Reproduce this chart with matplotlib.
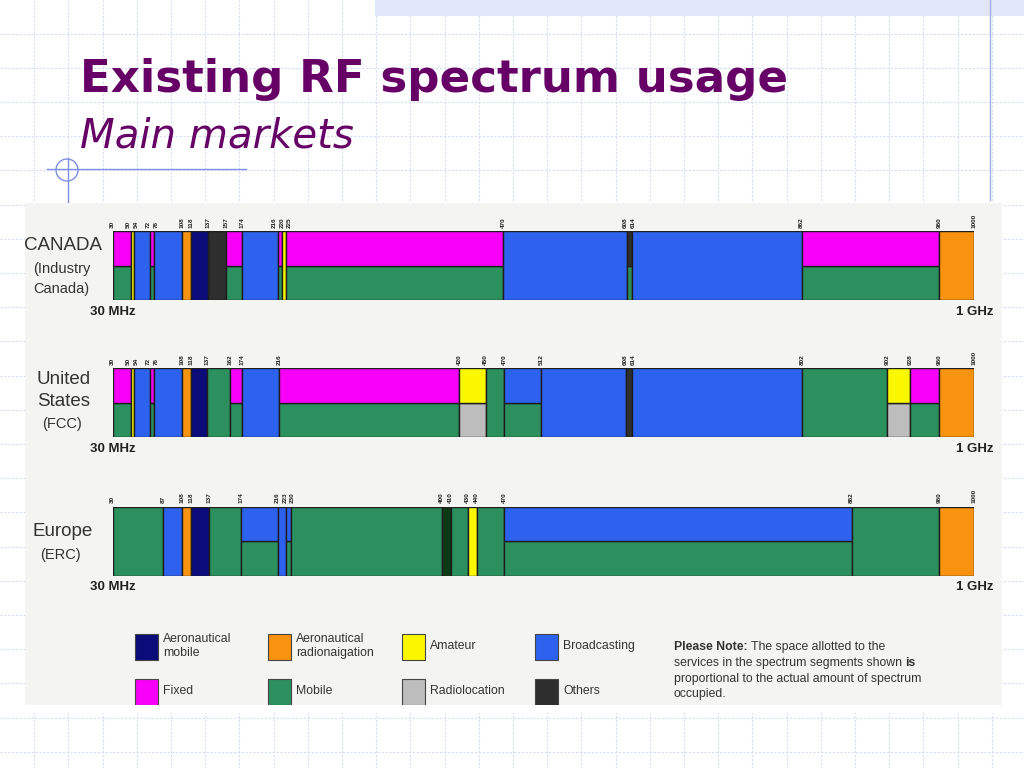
import matplotlib.pyplot as plt
import numpy as np
from matplotlib.patches import Rectangle, Circle

# service colours
colors = {
    "Aero mobile": "#0b0b7a",
    "Aero radionav": "#f7930f",
    "Amateur": "#fbf700",
    "Broadcasting": "#2d62ee",
    "Fixed": "#f700f7",
    "Mobile": "#2b8f5e",
    "Radiolocation": "#bdbdbd",
    "Others": "#2e2e2e",
    "Other EU": "#0c3a14",
}

# Canada (Industry Canada)
canada_edges = [30, 50, 54, 72, 76, 108, 118, 137, 157, 174, 216, 220, 225, 470, 608, 614, 862, 960, 1000]
canada_top = ["Fixed", "Amateur", "Broadcasting", "Fixed", "Broadcasting", "Aero radionav", "Aero mobile",
              "Others", "Fixed", "Broadcasting", "Fixed", "Amateur", "Fixed", "Broadcasting", "Others",
              "Broadcasting", "Fixed", "Aero radionav"]
canada_bottom = ["Mobile", "Amateur", "Broadcasting", "Mobile", "Broadcasting", "Aero radionav", "Aero mobile",
                 "Others", "Mobile", "Broadcasting", "Mobile", "Amateur", "Mobile", "Broadcasting", "Mobile",
                 "Broadcasting", "Mobile", "Aero radionav"]
canada_layout = [112.7, 131, 133.7, 150, 154.3, 182.3, 190.7, 208.3, 226, 241.7, 278.3, 282, 285.7, 503.3,
                 626.7, 632.3, 801.7, 939, 974.3]

# United States (FCC)
us_edges = [30, 50, 54, 72, 76, 108, 118, 137, 162, 174, 216, 420, 450, 470, 512, 608, 614, 802, 902, 928, 960, 1000]
us_top = ["Fixed", "Amateur", "Broadcasting", "Fixed", "Broadcasting", "Aero radionav", "Aero mobile", "Mobile",
          "Fixed", "Broadcasting", "Fixed", "Amateur", "Mobile", "Broadcasting", "Broadcasting", "Others",
          "Broadcasting", "Mobile", "Amateur", "Fixed", "Aero radionav"]
us_bottom = ["Mobile", "Amateur", "Broadcasting", "Mobile", "Broadcasting", "Aero radionav", "Aero mobile", "Mobile",
             "Mobile", "Broadcasting", "Mobile", "Radiolocation", "Mobile", "Mobile", "Broadcasting", "Others",
             "Broadcasting", "Mobile", "Radiolocation", "Mobile", "Aero radionav"]
us_layout = [112.7, 131, 133.7, 150, 154.3, 182.3, 190.7, 207.3, 230, 241.7, 279, 459.3, 485.7, 504, 541, 626,
             632.3, 802.3, 887.3, 910, 939, 974.3]

# Europe (ERC)
eu_edges = [30, 87, 108, 118, 137, 174, 216, 223, 230, 400, 410, 430, 440, 470, 862, 960, 1000]
eu_top = ["Mobile", "Broadcasting", "Aero radionav", "Aero mobile", "Mobile", "Broadcasting", "Broadcasting",
          "Broadcasting", "Mobile", "Other EU", "Mobile", "Amateur", "Mobile", "Broadcasting", "Mobile",
          "Aero radionav"]
eu_bottom = ["Mobile", "Broadcasting", "Aero radionav", "Aero mobile", "Mobile", "Mobile", "Broadcasting",
             "Mobile", "Mobile", "Other EU", "Mobile", "Amateur", "Mobile", "Mobile", "Mobile", "Aero radionav"]
eu_layout = [112.7, 163.3, 182.3, 190.7, 208.7, 241, 278.3, 285.7, 290.7, 441.7, 450.7, 467.7, 476.7, 504,
             851.7, 939, 974.3]

legend_keys = ["Aero mobile", "Aero radionav", "Amateur", "Broadcasting",
               "Fixed", "Mobile", "Radiolocation", "Others"]
legend_labels = ["Aeronautical\nmobile", "Aeronautical\nradionaigation", "Amateur", "Broadcasting",
                 "Fixed", "Mobile", "Radiolocation", "Others"]

PURPLE = "#660066"
W, H = 1024, 768

fig = plt.figure(figsize=(W / 100, H / 100), dpi=100)
bg = fig.add_axes([0, 0, 1, 1])
bg.set_xlim(0, W)
bg.set_ylim(H, 0)
bg.axis("off")

# slide background: graph-paper grid
for gx in np.arange(34.2, W, 34.2):
    bg.plot([gx, gx], [0, H], color="#d6ddf4", lw=0.8, ls=(0, (2, 1.5)), zorder=0)
for gy in np.arange(33.5, H, 34.2):
    bg.plot([0, W], [gy, gy], color="#d6ddf4", lw=0.8, ls=(0, (2, 1.5)), zorder=0)
bg.add_patch(Rectangle((375, 0), W - 375, 16, facecolor="#e1e7f8", edgecolor="none", zorder=1))
bg.plot([990, 990], [0, 200], color="#9fb0ea", lw=1.0, zorder=1)
bg.plot([47, 246], [169, 169], color="#7d8fe2", lw=1.0, zorder=2)
bg.plot([68, 68], [158, 205], color="#7d8fe2", lw=1.0, zorder=2)
bg.add_patch(Circle((67, 170), 11, facecolor="none", edgecolor="#7d8fe2", lw=1.0, zorder=2))

bg.text(80, 92, "Existing RF spectrum usage", fontsize=32.5, fontweight="bold", color=PURPLE,
        va="baseline", ha="left", family="DejaVu Sans")
bg.text(80, 147, "Main markets", fontsize=29, style="italic", color=PURPLE,
        va="baseline", ha="left", family="DejaVu Sans")

# chart panel
bg.add_patch(Rectangle((25, 203), 977, 502, facecolor="#f4f4f2", edgecolor="none", zorder=3))

row_font = dict(family="Liberation Sans", color="#333333", zorder=4, va="center", ha="left")
bg.text(24, 245, "CANADA", fontsize=13.5, **row_font)
bg.text(33, 269, "(Industry", fontsize=10.5, **row_font)
bg.text(33, 289, "Canada)", fontsize=10.5, **row_font)
bg.text(37, 379, "United", fontsize=13.5, **row_font)
bg.text(37, 402, "States", fontsize=13.5, **row_font)
bg.text(42, 424, "(FCC)", fontsize=10.5, **row_font)
bg.text(33, 532, "Europe", fontsize=13.5, **row_font)
bg.text(40, 555, "(ERC)", fontsize=10.5, **row_font)


def knot_scale(freqs, layout):
    fk = np.concatenate([[freqs[0] - 1e4], freqs, [freqs[-1] + 1e4]]).astype(float)
    pk = np.concatenate([[layout[0] - 1e4], layout, [layout[-1] + 1e4]]).astype(float)
    return (lambda f: np.interp(f, fk, pk), lambda p: np.interp(p, pk, fk))


def spread(pos, gap):
    # push crowded labels apart so they sit side by side
    pos = list(pos)
    for _ in range(200):
        for i in range(1, len(pos)):
            d = pos[i] - pos[i - 1]
            if d < gap:
                pos[i - 1] -= (gap - d) / 2
                pos[i] += (gap - d) / 2
    return pos


def spectrum_row(top_px, edges, top, bottom, layout):
    x0, x1 = layout[0], layout[-1]
    ax = fig.add_axes([x0 / W, 1 - (top_px + 69) / H, (x1 - x0) / W, 69 / H])
    ax.set_xscale("function", functions=knot_scale(edges, layout))
    ax.set_xlim(edges[0], edges[-1])
    ax.set_ylim(0, 1)
    ax.axis("off")
    ax.patch.set_visible(False)
    starts = np.array(edges[:-1])
    widths = np.diff(edges)
    for s, w, t, b in zip(starts, widths, top, bottom):
        if t == b:
            ax.bar(s, 1, width=w, bottom=0, align="edge", color=colors[t], edgecolor="#1d1d1d", lw=1.0)
        else:
            ax.bar(s, 0.5, width=w, bottom=0, align="edge", color=colors[b], edgecolor="#1d1d1d", lw=1.0)
            ax.bar(s, 0.5, width=w, bottom=0.5, align="edge", color=colors[t], edgecolor="#1d1d1d", lw=1.0)
    label_px = spread(layout, 7.6)
    for f, p0, p1 in zip(edges, layout, label_px):
        ax.annotate(str(f), xy=(f, 1), xycoords=("data", "axes fraction"),
                    xytext=((p1 - p0) * 0.72, 2.5), textcoords="offset points",
                    rotation=90, ha="center", va="bottom", fontsize=4.6, color="#222222",
                    family="Liberation Sans", fontweight="bold")
    ax.text(0, -0.17, "30 MHz", transform=ax.transAxes, ha="center", va="center", fontsize=9.5,
            fontweight="bold", color="#222222", family="Liberation Sans")
    ax.text(1, -0.17, "1 GHz", transform=ax.transAxes, ha="center", va="center", fontsize=9.5,
            fontweight="bold", color="#222222", family="Liberation Sans")
    return ax


spectrum_row(231, canada_edges, canada_top, canada_bottom, canada_layout)
spectrum_row(368.3, us_edges, us_top, us_bottom, us_layout)
spectrum_row(506.7, eu_edges, eu_top, eu_bottom, eu_layout)

# legend
for i, (key, label) in enumerate(zip(legend_keys, legend_labels)):
    col, row = i % 4, i // 4
    sx = 135 + col * 133.3
    sy = 634 + row * 45
    bg.add_patch(Rectangle((sx, sy), 23, 26, facecolor=colors[key], edgecolor="#444444", lw=0.8, zorder=4))
    bg.text(sx + 28, sy + 12, label, fontsize=8.8, color="#333333", va="center", ha="left",
            family="Liberation Sans", linespacing=1.25, zorder=5)
# cover swatch overflow below panel
bg.add_patch(Rectangle((25, 705), 977, 8, facecolor="white", edgecolor="none", zorder=4.5))

note_kw = dict(fontsize=8.8, color="#333333", family="Liberation Sans", zorder=5)
t1 = bg.text(674, 650, "Please Note:", fontweight="bold", va="baseline", **note_kw)
bg.annotate(" The space allotted to the", xy=(1, 0), xycoords=t1, va="bottom", **note_kw)
t2 = bg.text(674, 666, "services in the spectrum segments shown ", va="baseline", **note_kw)
bg.annotate("is", xy=(1, 0), xycoords=t2, va="bottom", fontweight="bold", **note_kw)
bg.text(674, 682, "proportional to the actual amount of spectrum", va="baseline", **note_kw)
bg.text(674, 697, "occupied.", va="baseline", **note_kw)

fig.savefig("out.png", dpi=100)
